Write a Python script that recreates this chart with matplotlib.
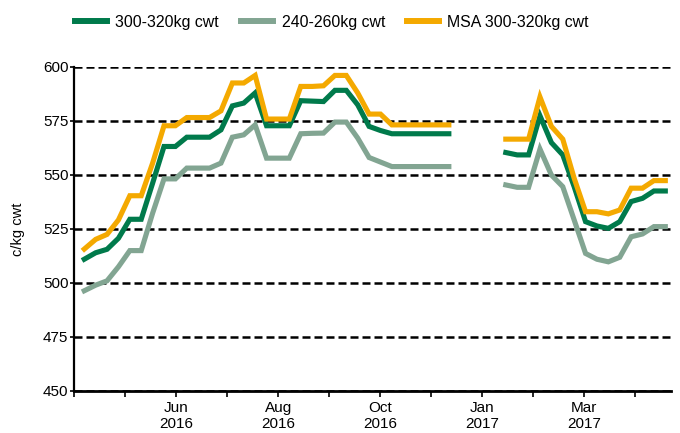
import numpy as np
import matplotlib
matplotlib.use("Agg")
import matplotlib.pyplot as plt

plt.rcParams['font.family'] = ['Liberation Sans', 'DejaVu Sans']

# weekly prices, c/kg cwt (gap over the Christmas break)
nan = np.nan
gap = [nan, nan, nan, nan]

msa_300_320 = [515.7, 520.2, 522.5, 529.2, 540.4, 540.4, 555.5, 572.8, 572.8, 576.6,
               576.6, 576.6, 579.7, 592.6, 592.6, 596.1, 575.9, 575.9, 575.9, 591.0,
               591.0, 591.3, 596.1, 596.1, 588.0, 578.2, 578.2, 573.2, 573.2, 573.2,
               573.2, 573.2, 573.2] + gap + \
              [566.6, 566.6, 566.6, 586.1, 572.5, 566.6, 548.5, 533.0, 533.0, 532.0,
               533.8, 543.9, 543.9, 547.4, 547.4]

cwt_300_320 = [511.0, 514.0, 515.6, 520.7, 529.5, 529.5, 546.2, 563.2, 563.2, 567.5,
               567.5, 567.5, 570.9, 582.0, 583.3, 588.0, 572.8, 572.8, 572.8, 584.4,
               584.2, 584.0, 589.2, 589.2, 582.5, 572.5, 570.6, 569.1, 569.1, 569.1,
               569.1, 569.1, 569.1] + gap + \
              [560.4, 559.3, 559.3, 577.4, 565.0, 559.3, 544.6, 528.4, 526.4, 525.3,
               528.4, 537.7, 539.2, 542.6, 542.6]

cwt_240_260 = [496.4, 499.0, 501.0, 507.5, 515.0, 515.0, 532.3, 548.2, 548.2, 553.2,
               553.2, 553.2, 555.5, 567.5, 568.6, 573.2, 557.8, 557.8, 557.8, 569.1,
               569.3, 569.4, 574.5, 574.5, 567.1, 558.1, 556.0, 553.9, 553.9, 553.9,
               553.9, 553.9, 553.9] + gap + \
              [545.4, 544.3, 544.3, 562.0, 550.0, 544.6, 529.2, 513.7, 511.0, 509.8,
               511.9, 521.4, 522.7, 526.1, 526.1]

tick_labels = ['', '', 'Jun\n2016', '', 'Aug\n2016', '', 'Oct\n2016', '',
               'Jan\n2017', '', 'Mar\n2017', '']

c_dark = '#007A4B'
c_grey = '#82A592'
c_gold = '#F4A900'

weeks = np.arange(len(cwt_300_320))

fig = plt.figure(figsize=(6.8, 4.33), dpi=100)
ax = fig.add_axes([74 / 680, 1 - 391 / 433, 597 / 680, 324 / 433])

l1, = ax.plot(weeks, cwt_300_320, color=c_dark, lw=3.7, zorder=3, solid_joinstyle='miter')
l2, = ax.plot(weeks, cwt_240_260, color=c_grey, lw=3.7, zorder=3, solid_joinstyle='miter')
l3, = ax.plot(weeks, msa_300_320, color=c_gold, lw=3.7, zorder=4, solid_joinstyle='miter')

ax.set_ylim(450, 600)
ax.set_yticks(np.arange(450, 601, 25))
ax.set_xlim(-0.9, 51.5)
ax.set_xticks(-0.9 + 4.48 * np.arange(len(tick_labels)))
ax.set_xticklabels(tick_labels)

ax.set_axisbelow(True)
ax.yaxis.grid(True, color='black', lw=1.8, linestyle=(0, (3.2, 1.6)))
for s in ['top', 'right']:
    ax.spines[s].set_visible(False)
ax.spines['left'].set_linewidth(1.6)
ax.spines['bottom'].set_linewidth(2.0)
ax.spines['bottom'].set_zorder(5)

ax.tick_params(axis='x', direction='out', length=4, width=1.2, labelsize=11, pad=3)
ax.tick_params(axis='y', direction='out', length=3, width=1.2, labelsize=11, pad=1)

ax.set_ylabel('c/kg cwt', fontsize=10.5)
ax.yaxis.set_label_coords(-0.082, 0.5)

fig.legend([l1, l2, l3], ['300-320kg cwt', '240-260kg cwt', 'MSA 300-320kg cwt'],
           loc='center', bbox_to_anchor=(332 / 680, 0.949), ncol=3, frameon=False,
           fontsize=11.4, handlelength=2.0, handletextpad=0.55, columnspacing=1.4)
for h in fig.legends[0].get_lines():
    h.set_linewidth(4.3)

fig.savefig('out.png', dpi=100)
